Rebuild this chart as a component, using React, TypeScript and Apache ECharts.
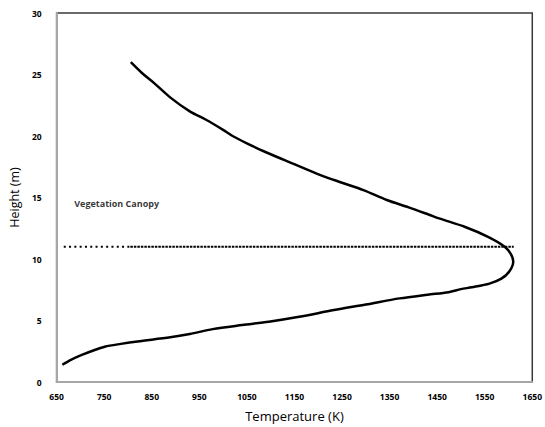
import React, { useEffect, useRef } from "react";
import * as echarts from "echarts";

// Temperature (K) profile vs height (m)
const temperature: number[] = [
  662, 680, 703, 730, 751, 785, 820, 889, 930, 978, 1040, 1096, 1160, 1233, 1300, 1371,
  1430, 1474, 1500, 1523, 1560, 1585, 1602, 1610, 1605, 1592, 1557, 1509, 1454, 1433,
  1390, 1344, 1295, 1250, 1206, 1144, 1089, 1050, 1020, 1000, 965, 930, 890, 855, 830, 806,
];
const height: number[] = [
  1.4, 1.8, 2.2, 2.6, 2.87, 3.1, 3.3, 3.63, 3.9, 4.3, 4.63, 4.9, 5.3, 5.85, 6.3, 6.8,
  7.1, 7.3, 7.55, 7.7, 8.0, 8.4, 9.0, 9.8, 10.4, 11.0, 11.8, 12.6, 13.3, 13.6,
  14.2, 14.8, 15.6, 16.2, 16.8, 17.8, 18.7, 19.4, 20.0, 20.5, 21.3, 22.0, 23.1, 24.3, 25.1, 26.0,
];

// Canopy top line
const canopyHeight = 11;
const canopyDottedT: number[] = [665, 805];
const canopyDashedT: number[] = [805, 1611];
const canopyLabel = "Vegetation Canopy";
const canopyLabelPos: [number, number] = [687, 14.5];

const xMin = 650;
const xMax = 1650;
const xStep = 100;
const yMin = 0;
const yMax = 30;
const yStep = 5;

export default function App() {
  const ref = useRef<HTMLDivElement>(null);
  useEffect(() => {
    if (!ref.current) return;
    const chart = echarts.init(ref.current, undefined, { renderer: "svg" });
    const sx = (t: number) => t - xMin;
    const tickFont = {
      fontFamily: "Open Sans",
      fontWeight: 700,
      fontSize: 8.5,
      color: "#000",
    };
    chart.setOption({
      animation: false,
      backgroundColor: "#fff",
      grid: {
        left: 51,
        right: 10,
        top: 13,
        bottom: 45,
        show: true,
        borderColor: "#3a3a3a",
        borderWidth: 1.5,
      },
      xAxis: {
        type: "value",
        min: 0,
        max: xMax - xMin,
        interval: xStep,
        name: "Temperature (K)",
        nameLocation: "middle",
        nameGap: 27,
        nameTextStyle: { fontFamily: "Open Sans", fontSize: 13, color: "#000" },
        axisLine: { show: true, lineStyle: { color: "#a6a6a6", width: 2 } },
        axisTick: { show: false },
        splitLine: { show: false },
        axisLabel: {
          ...tickFont,
          margin: 10,
          formatter: (v: number) => String(v + xMin),
        },
      },
      yAxis: {
        type: "value",
        min: yMin,
        max: yMax,
        interval: yStep,
        name: "Height (m)",
        nameLocation: "middle",
        nameGap: 29,
        nameTextStyle: { fontFamily: "Open Sans", fontSize: 12.5, color: "#000" },
        axisLine: { show: true, lineStyle: { color: "#a6a6a6", width: 2 } },
        axisTick: { show: false },
        splitLine: { show: false },
        axisLabel: { ...tickFont, margin: 15 },
      },
      series: [
        {
          type: "line",
          data: temperature.map((t, i) => [sx(t), height[i]]),
          showSymbol: false,
          smooth: 0.3,
          lineStyle: { color: "#000", width: 2.5 },
          z: 3,
        },
        {
          type: "line",
          data: canopyDottedT.map((t) => [sx(t), canopyHeight]),
          showSymbol: false,
          lineStyle: { color: "#000", width: 2, type: [2, 3.3] },
          z: 2,
        },
        {
          type: "line",
          data: canopyDashedT.map((t) => [sx(t), canopyHeight]),
          showSymbol: false,
          lineStyle: { color: "#000", width: 2, type: [2.5, 1] },
          z: 2,
        },
        {
          type: "scatter",
          data: [[sx(canopyLabelPos[0]), canopyLabelPos[1]]],
          symbolSize: 0,
          silent: true,
          label: {
            show: true,
            position: "right",
            distance: 0,
            formatter: canopyLabel,
            fontFamily: "Open Sans",
            fontWeight: 700,
            fontSize: 9,
            color: "#000",
          },
        },
      ],
    });
    return () => chart.dispose();
  }, []);
  return (
    <div
      ref={ref}
      style={{ position: "fixed", left: 0, top: 0, width: 545, height: 427 }}
    />
  );
}
